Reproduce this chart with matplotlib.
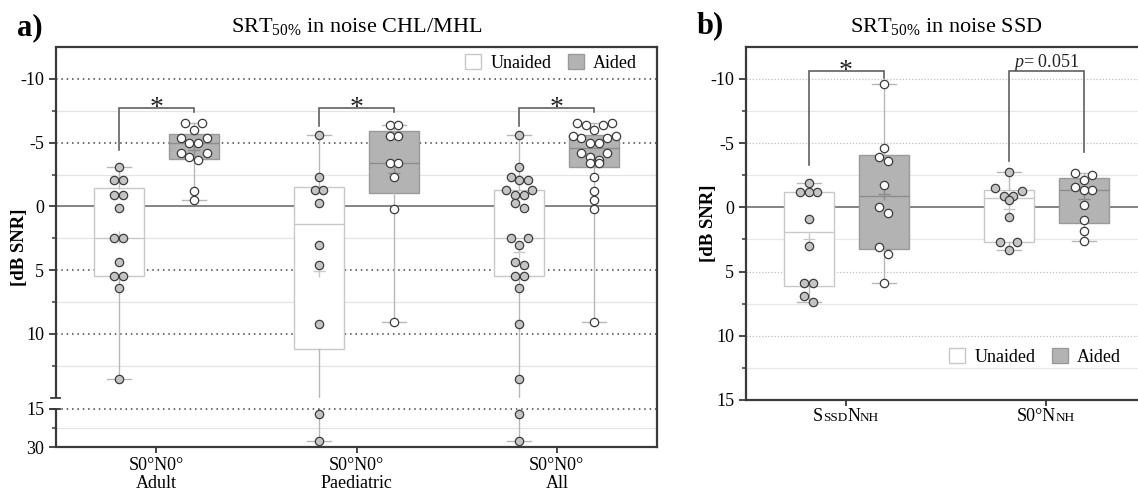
import numpy as np
import matplotlib
matplotlib.use("Agg")
import matplotlib.pyplot as plt
from matplotlib.patches import Patch
from matplotlib.ticker import FixedLocator, FixedFormatter
from matplotlib.offsetbox import TextArea, HPacker, AnnotationBbox

plt.rcParams['font.family'] = 'Liberation Serif'
plt.rcParams['mathtext.fontset'] = 'custom'
plt.rcParams['mathtext.rm'] = 'Liberation Serif'
plt.rcParams['mathtext.it'] = 'Liberation Serif:italic'
plt.rcParams['mathtext.bf'] = 'Liberation Serif:bold'

# ---- data (SRT50% in dB SNR) ----
groups_a = ['S0°N0°\nAdult', 'S0°N0°\nPaediatric', 'S0°N0°\nAll']
adult_unaided = [-3.09, -2.05, -2.05, -0.87, -0.87, 0.1, 2.45, 2.47, 4.33, 5.43, 5.43, 6.43, 13.54]
adult_aided = [-6.51, -6.51, -5.98, -5.33, -5.33, -4.99, -4.99, -4.15, -4.15, -3.88, -3.6, -1.2, -0.47]
paed_unaided = [-5.62, -2.28, -1.26, -1.26, -0.29, 3.02, 4.62, 9.24, 17.1, 27.5]
paed_aided = [-6.35, -6.35, -5.51, -5.51, -3.41, -3.41, -2.28, 0.21, 9.03]
all_unaided = adult_unaided + paed_unaided
all_aided = adult_aided + paed_aided

ssd_unaided = [-1.87, -1.17, -1.17, -1.17, 0.9, 2.98, 5.9, 5.9, 6.92, 7.41]
ssd_aided = [-9.59, -4.58, -3.89, -3.57, -1.76, 0.0, 0.47, 3.1, 3.62, 5.9]
s0_unaided = [-2.77, -1.48, -1.3, -0.91, -0.91, -0.57, 0.72, 2.72, 2.72, 3.31]
s0_aided = [-2.64, -2.52, -2.15, -1.61, -1.38, -1.38, -0.21, 0.98, 1.81, 2.64]

# significance brackets: bracket height, unaided leg end, aided leg end
brk_a = [-7.7, -7.7, -7.7]
leg_un_a = [-4.46, -6.3, -6.3]
leg_ai_a = [-7.4, -7.4, -7.4]
brk_b = [-10.57, -10.57]
leg_un_b = [-3.32, -3.57]
leg_ai_b = [-10.1, -4.27]
sig_b = ['*', '$p$= 0.051']

# ---- style ----
SPINE = '#3a3a3a'
UN_FACE, UN_EDGE = 'white', '#c8c8c8'
AI_FACE, AI_EDGE = '#b3b3b3', '#9a9a9a'
WHISK = '#b8b8b8'
DOT_EDGE = '#3c3c3c'
OFF = 0.1875
BW = 0.25

# broken y axis for panel a: linear to 15, compressed 15..30 after a gap
BREAK, GAP, SQUEEZE = 15.0, 0.87, 0.2
EPS = 1e-6


def fwd(v):
    v = np.asarray(v, dtype=float)
    return np.where(v <= BREAK, v, BREAK + GAP + (v - BREAK) * SQUEEZE)


def inv(u):
    u = np.asarray(u, dtype=float)
    return np.where(u <= BREAK, u, BREAK + np.maximum(u - BREAK - GAP, 0) / SQUEEZE)


def stats(vals):
    v = np.asarray(vals, dtype=float)
    q1, med, q3 = np.percentile(v, [25, 50, 75], method='weibull')
    return dict(med=med, q1=q1, q3=q3, whislo=v.min(), whishi=v.max(), mean=v.mean(), fliers=[])


def swarm(vals, y_ppu, x_ppu, scale, diam=8.7, row_h=8.0):
    # rows of nearby points are spread sideways, outermost slots first
    vals = np.asarray(vals, dtype=float)
    order = np.argsort(vals, kind='stable')
    ypx = scale(vals) * y_ppu
    offs = np.zeros(len(vals))
    i = 0
    while i < len(order):
        start = ypx[order[i]]
        j = i
        while j < len(order) and ypx[order[j]] - start < row_h:
            j += 1
        row = order[i:j]
        slots = (np.arange(len(row)) - (len(row) - 1) / 2) * diam
        slot_order = np.argsort(-np.abs(slots), kind='stable')
        for k, idx in enumerate(row):
            offs[idx] = slots[slot_order[k]]
        i = j
    return offs / x_ppu


def draw_group(ax, pos, un, ai, y_ppu, x_ppu, scale):
    for vals, x, face, edge, med_c, dot_face in [
            (un, pos - OFF, UN_FACE, UN_EDGE, '#c8c8c8', '#c4c4c4'),
            (ai, pos + OFF, AI_FACE, AI_EDGE, '#8c8c8c', 'white')]:
        ax.bxp([stats(vals)], positions=[x], widths=BW, capwidths=0.12,
               showmeans=True, patch_artist=True, manage_ticks=False, zorder=2,
               boxprops=dict(facecolor=face, edgecolor=edge, linewidth=1),
               whiskerprops=dict(color=WHISK, linewidth=1),
               capprops=dict(color=WHISK, linewidth=1),
               medianprops=dict(color=med_c, linewidth=1),
               meanprops=dict(marker='+', markeredgecolor=med_c, markersize=8,
                              markeredgewidth=1, zorder=3))
        ax.scatter(x + swarm(vals, y_ppu, x_ppu, scale), vals, s=36, c=dot_face,
                   edgecolors=DOT_EDGE, linewidths=0.9, zorder=4)


def bracket(ax, x0, x1, top, l0, l1):
    ax.plot([x0, x0, x1, x1], [l0, top, top, l1], color='#606060', lw=1.2,
            zorder=4, solid_joinstyle='miter')


def style_axes(ax):
    for s in ax.spines.values():
        s.set_color(SPINE)
        s.set_linewidth(1.6)
    ax.tick_params(axis='y', which='major', length=5, width=1.3, color=SPINE,
                   labelsize=13, pad=3.5)
    ax.tick_params(axis='y', which='minor', length=3, width=1.1, color=SPINE)
    ax.tick_params(axis='x', which='major', length=4, width=1.3, color=SPINE,
                   labelsize=13, pad=3.5)
    ax.tick_params(axis='x', which='minor', length=0)


fig = plt.figure(figsize=(11.38, 4.95), dpi=100)
W, H = 1138, 495
ax_a = fig.add_axes([56 / W, 1 - 447 / H, 601 / W, 400 / H])
ax_b = fig.add_axes([746 / W, 1 - 400 / H, 400 / W, 353.3 / H])

# ---------------- panel a ----------------
ax_a.set_yscale('function', functions=(fwd, inv))
ax_a.set_ylim(30, -12.5)
ax_a.set_xlim(-0.5, 2.5)
style_axes(ax_a)

a_major = [-10, -5, 0, 5, 10, 15 + EPS, 30]
a_labels = ['-10', '-5', '0', '5', '10', '15', '30']
a_minor = [-7.5, -2.5, 2.5, 7.5, 12.5, 22.5]
ax_a.yaxis.set_major_locator(FixedLocator(a_major))
ax_a.yaxis.set_major_formatter(FixedFormatter(a_labels))
ax_a.yaxis.set_minor_locator(FixedLocator(a_minor))
ax_a.set_xticks(range(len(groups_a)))
ax_a.set_xticklabels(groups_a, linespacing=1.05)

for y in a_minor:
    ax_a.axhline(y, color='#e4e4e4', lw=0.9, zorder=0.5)
for y in [-10, -5, 5, 10]:
    ax_a.axhline(y, color='#444444', lw=1.1, ls=(0, (1, 2.5)), zorder=0.6)
ax_a.axhline(15 + EPS, color='#444444', lw=1.1, ls=(0, (1, 2.5)), zorder=2.45)
ax_a.axhline(0, color='#7a7a7a', lw=1.3, zorder=0.7)

ppu_a = H * ax_a.get_position().height / (fwd(30) - fwd(-12.5))
xppu_a = W * ax_a.get_position().width / 3.0
for i, (un, ai) in enumerate([(adult_unaided, adult_aided), (paed_unaided, paed_aided),
                              (all_unaided, all_aided)]):
    draw_group(ax_a, i, un, ai, ppu_a, xppu_a, fwd)
    bracket(ax_a, i - OFF, i + OFF, brk_a[i], leg_un_a[i], leg_ai_a[i])
    ax_a.annotate('*', (i, brk_a[i]), xytext=(0, -5), textcoords='offset points',
                  ha='center', va='baseline', fontsize=20, color='#222222', zorder=5)

# break in the axis: white band over the plot, left spine drawn in two pieces
ax_a.axhspan(15, 15 + EPS, color='white', lw=0, zorder=2.4)
ax_a.spines['left'].set_visible(False)
ytr = ax_a.get_yaxis_transform()
ax_a.plot([0, 0], [-12.5, 15], transform=ytr, color=SPINE, lw=1.6, clip_on=False,
          zorder=5, solid_capstyle='butt')
ax_a.plot([0, 0], [15 + EPS, 30], transform=ytr, color=SPINE, lw=1.6, clip_on=False,
          zorder=5, solid_capstyle='butt')
for y in [15, 15 + EPS]:
    ax_a.plot([-0.008, 0.006], [y, y], transform=ytr, color=SPINE, lw=1.3,
              clip_on=False, zorder=5)

ax_a.text(0.5, 1.038, r'SRT$_{50\%}$ in noise CHL/MHL', transform=ax_a.transAxes,
          ha='center', va='baseline', fontsize=16)
ax_a.set_ylabel('[dB SNR]', fontsize=13.5, fontweight='bold')
ax_a.yaxis.set_label_coords(-0.047, 0.5)
ax_a.legend(handles=[Patch(facecolor=UN_FACE, edgecolor=UN_EDGE, label='Unaided'),
                     Patch(facecolor=AI_FACE, edgecolor=AI_EDGE, label='Aided')],
            loc='upper right', bbox_to_anchor=(1 - 20 / 601, 1 - 7 / 400), ncol=2,
            frameon=False, fontsize=13, handlelength=0.9, handleheight=0.9,
            handletextpad=0.5, columnspacing=0.9, borderpad=0, borderaxespad=0)

# ---------------- panel b ----------------
ax_b.set_ylim(15, -12.5)
ax_b.set_xlim(-0.5, 1.5)
style_axes(ax_b)
ax_b.set_yticks([-10, -5, 0, 5, 10, 15])
ax_b.set_yticklabels(['-10', '-5', '0', '5', '10', '15'])
b_minor = [-7.5, -2.5, 2.5, 7.5, 12.5]
ax_b.set_yticks(b_minor, minor=True)
ax_b.set_xticks([0, 1])
ax_b.set_xticklabels(['', ''])

for y in b_minor:
    ax_b.axhline(y, color='#e8e8e8', lw=0.9, zorder=0.5)
for y in [-10, -5, 5, 10]:
    ax_b.axhline(y, color='#c0c0c0', lw=0.9, ls=(0, (1, 1.5)), zorder=0.6)
ax_b.axhline(0, color='#7a7a7a', lw=1.3, zorder=0.7)

ident = lambda v: np.asarray(v, dtype=float)
ppu_b = H * ax_b.get_position().height / 27.5
xppu_b = W * ax_b.get_position().width / 2.0
for i, (un, ai) in enumerate([(ssd_unaided, ssd_aided), (s0_unaided, s0_aided)]):
    draw_group(ax_b, i, un, ai, ppu_b, xppu_b, ident)
    bracket(ax_b, i - OFF, i + OFF, brk_b[i], leg_un_b[i], leg_ai_b[i])
ax_b.annotate(sig_b[0], (0, brk_b[0]), xytext=(0, -5), textcoords='offset points',
              ha='center', va='baseline', fontsize=20, color='#222222')
ax_b.annotate(sig_b[1], (1, brk_b[1]), xytext=(0, 3), textcoords='offset points',
              ha='center', va='baseline', fontsize=13, color='#222222')

# small-caps style category labels
b_labels = [[('S', 13), ('SSD', 9.5), ('N', 13), ('NH', 9.5)],
            [('S0°N', 13), ('NH', 9.5)]]
for i, parts in enumerate(b_labels):
    pack = HPacker(children=[TextArea(t, textprops=dict(fontsize=fs)) for t, fs in parts],
                   align='baseline', pad=0, sep=0)
    ab = AnnotationBbox(pack, (i, 0), xycoords=('data', 'axes fraction'), xybox=(0, -5.5),
                        boxcoords='offset points', box_alignment=(0.5, 1), frameon=False,
                        pad=0, annotation_clip=False)
    ax_b.add_artist(ab)

ax_b.text(0.5, 1.0425, r'SRT$_{50\%}$ in noise SSD', transform=ax_b.transAxes,
          ha='center', va='baseline', fontsize=16)
ax_b.set_ylabel('[dB SNR]', fontsize=13.5, fontweight='bold')
ax_b.yaxis.set_label_coords(-0.0725, 0.5)
ax_b.legend(handles=[Patch(facecolor=UN_FACE, edgecolor=UN_EDGE, label='Unaided'),
                     Patch(facecolor=AI_FACE, edgecolor=AI_EDGE, label='Aided')],
            loc='lower right', bbox_to_anchor=((1121 - 746) / 400, 34 / 353.3), ncol=2,
            frameon=False, fontsize=13, handlelength=0.9, handleheight=0.9,
            handletextpad=0.5, columnspacing=0.9, borderpad=0, borderaxespad=0)

fig.text(17 / W, 1 - 28 / H, 'a)', ha='left', va='center', fontsize=22, fontweight='bold')
fig.text(697 / W, 1 - 26 / H, 'b)', ha='left', va='center', fontsize=22, fontweight='bold')

fig.savefig('out.png', dpi=100)
